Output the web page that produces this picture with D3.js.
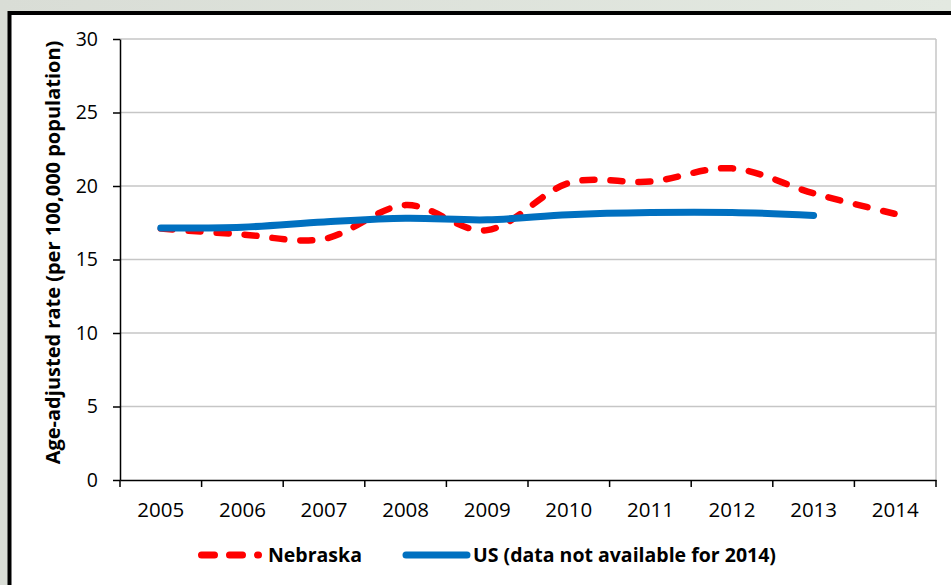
<!DOCTYPE html>
<html>
<head>
<meta charset="utf-8">
<script src="https://cdn.jsdelivr.net/npm/d3@7"></script>
<style>
  body { margin: 0; padding: 0; overflow: hidden; }
  text { font-family: "Open Sans", "Liberation Sans", sans-serif; fill: #000; }
</style>
</head>
<body>
<script>
// chart data
const years = ['2005', '2006', '2007', '2008', '2009', '2010', '2011', '2012', '2013', '2014'];
const nebraska = [17.1, 16.7, 16.4, 18.7, 17.0, 20.2, 20.3, 21.2, 19.5, 18.1];
const us = [17.15, 17.2, 17.55, 17.8, 17.7, 18.05, 18.2, 18.2, 18.0, null];
const yTicks = [0, 5, 10, 15, 20, 25, 30];

const width = 951;
const height = 585;
const plot = {left: 120, top: 39, right: 936, bottom: 480};

let svg = d3.select('body')
    .append('svg')
        .attr('width', width)
        .attr('height', height);

// background gradient + black frame
let grad = svg.append('defs').append('linearGradient')
    .attr('id', 'bg')
    .attr('x1', '0%').attr('x2', '100%');
grad.append('stop').attr('offset', '0%').attr('stop-color', '#d9ddd6');
grad.append('stop').attr('offset', '100%').attr('stop-color', '#e3e9e1');

svg.append('rect')
    .attr('width', width)
    .attr('height', height)
    .attr('fill', 'url(#bg)');

svg.append('rect')
    .attr('x', 9.5)
    .attr('y', 13)
    .attr('width', width + 20)
    .attr('height', height + 20)
    .attr('fill', '#fff')
    .attr('stroke', '#000')
    .attr('stroke-width', 4);

const xScale = d3.scaleBand()
    .domain(years)
    .range([plot.left, plot.right])
    .padding(0);

const yScale = d3.scaleLinear()
    .domain([0, 30])
    .range([plot.bottom, plot.top]);

const cx = (d) => xScale(d) + xScale.bandwidth() / 2;

// gridlines
svg.append('g')
    .selectAll('line')
    .data(yTicks.slice(1))
    .enter()
        .append('line')
            .attr('x1', plot.left)
            .attr('x2', plot.right)
            .attr('y1', (d) => yScale(d))
            .attr('y2', (d) => yScale(d))
            .attr('stroke', '#c6c6c6')
            .attr('stroke-width', 1.5);

// right border of plot area
svg.append('line')
    .attr('x1', plot.right).attr('x2', plot.right)
    .attr('y1', plot.top).attr('y2', plot.bottom)
    .attr('stroke', '#c6c6c6')
    .attr('stroke-width', 1.5);

// y-axis
let yAxis = svg.append('g')
    .attr('transform', `translate(${plot.left}, 0)`)
    .call(d3.axisLeft(yScale).tickValues(yTicks).tickSize(7).tickPadding(15).tickSizeOuter(0));
yAxis.selectAll('text').style('font-size', '19.5px');
yAxis.selectAll('line, path').attr('stroke', '#000').attr('stroke-width', 1.5);

// x-axis: labels centred in bands, ticks on band boundaries
let xAxis = svg.append('g')
    .attr('transform', `translate(0, ${plot.bottom})`)
    .call(d3.axisBottom(xScale).tickSize(0).tickPadding(22).tickSizeOuter(0));
xAxis.selectAll('text').style('font-size', '20.5px');
xAxis.select('path').attr('stroke', '#000').attr('stroke-width', 1.5);
xAxis.selectAll('.tick line').remove();
xAxis.selectAll('.bound')
    .data(years.map((d) => xScale(d)).concat([plot.right]))
    .enter()
        .append('line')
            .attr('x1', (d) => d)
            .attr('x2', (d) => d)
            .attr('y1', 0)
            .attr('y2', 7)
            .attr('stroke', '#000')
            .attr('stroke-width', 1.5);

// y-axis title
svg.append('text')
    .attr('transform', `translate(60, ${(plot.top + 466) / 2}) rotate(-90)`)
    .attr('text-anchor', 'middle')
    .style('font-size', '20px')
    .style('font-weight', 'bold')
    .text('Age-adjusted rate (per 100,000 population)');

// lines
const line = d3.line()
    .defined((d) => d[1] != null)
    .x((d) => cx(d[0]))
    .y((d) => yScale(d[1]))
    .curve(d3.curveCardinal.tension(0));

svg.append('path')
    .datum(years.map((d, i) => [d, nebraska[i]]))
    .attr('d', line)
    .attr('fill', 'none')
    .attr('stroke', '#ff0000')
    .attr('stroke-width', 6.5)
    .attr('stroke-linecap', 'round')
    .attr('stroke-dasharray', '12,16');

svg.append('path')
    .datum(years.map((d, i) => [d, us[i]]).filter((d) => d[1] != null))
    .attr('d', line)
    .attr('fill', 'none')
    .attr('stroke', '#0070c0')
    .attr('stroke-width', 7)
    .attr('stroke-linecap', 'round');

// legend
const legendY = 555;
let legend = svg.append('g');
legend.append('line')
    .attr('x1', 201.5).attr('x2', 258.5)
    .attr('y1', legendY).attr('y2', legendY)
    .attr('stroke', '#ff0000')
    .attr('stroke-width', 7)
    .attr('stroke-linecap', 'round')
    .attr('stroke-dasharray', '13,15');
legend.append('text')
    .attr('x', 268)
    .attr('y', legendY)
    .attr('dy', '0.36em')
    .style('font-size', '19.5px')
    .style('font-weight', 'bold')
    .text('Nebraska');
legend.append('line')
    .attr('x1', 406).attr('x2', 467)
    .attr('y1', legendY).attr('y2', legendY)
    .attr('stroke', '#0070c0')
    .attr('stroke-width', 7)
    .attr('stroke-linecap', 'round');
legend.append('text')
    .attr('x', 473)
    .attr('y', legendY)
    .attr('dy', '0.36em')
    .style('font-size', '19.5px')
    .style('font-weight', 'bold')
    .text('US (data not available for 2014)');
</script>
</body>
</html>
